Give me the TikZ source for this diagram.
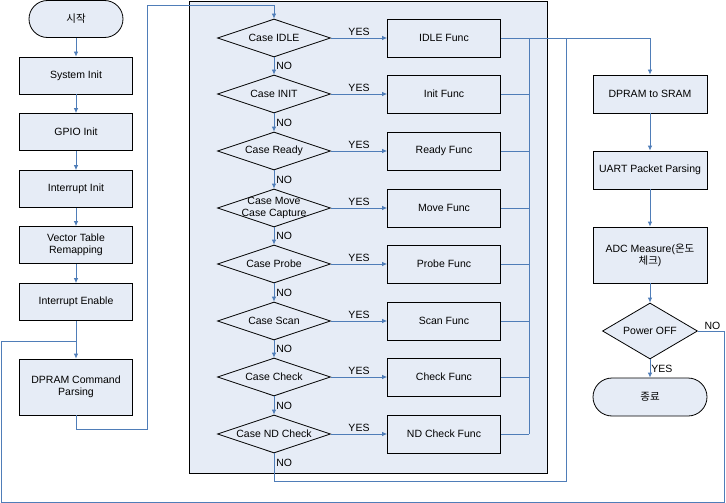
\documentclass[tikz,border=0pt]{standalone}
\usepackage{fontspec}
\setmainfont{Liberation Sans}
\newfontfamily\kofont{Noto Sans CJK KR}
\usetikzlibrary{shapes.geometric,arrows.meta}

\definecolor{flowline}{HTML}{4F7DB8}
\definecolor{boxfill}{HTML}{E6ECF6}

\begin{document}
\begin{tikzpicture}[
    x=1pt, y=-1pt,
    font=\fontsize{10.5}{12}\selectfont,
    process/.style={draw, fill=boxfill, line width=0.8pt, minimum width=113, minimum height=37, align=center, inner sep=1pt},
    terminal/.style={process, rounded corners=18.5pt},
    decision/.style={diamond, draw, fill=boxfill, line width=0.8pt, aspect=3, minimum width=113, minimum height=38, inner sep=0pt, align=center},
    flow/.style={draw=flowline, line width=0.8pt},
    arrow/.style={flow, -{Latex[length=5pt,width=4.5pt]}},
    yes/.style={above, inner sep=2pt},
    no/.style={right, inner sep=2pt}
]
\useasboundingbox (0,0) rectangle (726,503);

% case frame
\draw[fill=boxfill, line width=0.8pt] (189,1) rectangle (547,473);

% start sequence
\node[terminal, minimum width=94] (start) at (76,19) {\kofont 시작};
\node[process] (sysinit) at (76,75.5) {System Init};
\node[process] (gpioinit) at (76,132) {GPIO Init};
\node[process] (intinit) at (76,189) {Interrupt Init};
\node[process] (vectable) at (76,245) {Vector Table\\Remapping};
\node[process] (intenable) at (76,302) {Interrupt Enable};
\node[process, minimum height=56] (cmdparse) at (76,387) {DPRAM Command\\Parsing};

% cases
\node[decision] (cidle) at (274,38) {Case IDLE};
\node[decision] (cinit) at (274,94) {Case INIT};
\node[decision] (cready) at (274,151) {Case Ready};
\node[decision, inner xsep=-15pt] (cmove) at (274,208) {Case Move\\Case Capture};
\node[decision] (cprobe) at (274,264) {Case Probe};
\node[decision] (cscan) at (274,321) {Case Scan};
\node[decision] (ccheck) at (274,377) {Case Check};
\node[decision] (cndcheck) at (274,434) {Case ND Check};

% functions
\node[process, minimum height=38] (fidle) at (444,38) {IDLE Func};
\node[process, minimum height=38] (finit) at (444,94) {Init Func};
\node[process, minimum height=38] (fready) at (444,151) {Ready Func};
\node[process, minimum height=38] (fmove) at (444,208) {Move Func};
\node[process, minimum height=38] (fprobe) at (444,264) {Probe Func};
\node[process, minimum height=38] (fscan) at (444,321) {Scan Func};
\node[process, minimum height=38] (fcheck) at (444,377) {Check Func};
\node[process, minimum height=38] (fndcheck) at (444,434) {ND Check Func};

% right sequence
\node[process, minimum width=114, minimum height=38] (tosram) at (650,94) {DPRAM to SRAM};
\node[process, minimum width=114, minimum height=38] (uartparse) at (650,170) {UART Packet Parsing};
\node[process, minimum width=114, minimum height=56] (adcmeas) at (650,255) {ADC Measure({\kofont 온도}\\{\kofont 체크})};
\node[decision, minimum width=95, minimum height=56, aspect=1.7] (poweroff) at (650,331) {Power OFF};
\node[terminal, minimum width=114, minimum height=38, rounded corners=19pt] (finish) at (650,397) {\kofont 종료};

% helper points
\coordinate (busTop) at (529,38);
\coordinate (busBot) at (529,434);
\coordinate (ndTurn) at (566,481);
\coordinate (loopJoin) at (76,341);

% start sequence arrows
\draw[arrow] (start) -- (sysinit);
\draw[arrow] (sysinit) -- (gpioinit);
\draw[arrow] (gpioinit) -- (intinit);
\draw[arrow] (intinit) -- (vectable);
\draw[arrow] (vectable) -- (intenable);
\draw[arrow] (intenable) -- (cmdparse);
\draw[arrow] (cmdparse.south) |- (147,429) |- (274,5) -- (cidle.north);

% case arrows
\foreach \c/\f in {cidle/fidle, cinit/finit, cready/fready, cmove/fmove, cprobe/fprobe, cscan/fscan, ccheck/fcheck, cndcheck/fndcheck}
    \draw[arrow] (\c.east) -- node[yes] {YES} (\f.west);
\foreach \a/\b in {cidle/cinit, cinit/cready, cready/cmove, cmove/cprobe, cprobe/cscan, cscan/ccheck, ccheck/cndcheck}
    \draw[arrow] (\a.south) -- node[no] {NO} (\b.north);

% function returns
\foreach \f in {finit, fready, fmove, fprobe, fscan, fcheck, fndcheck}
    \draw[flow] (\f.east) -- (\f.east -| busTop);
\draw[flow] (busTop) -- (busBot);
\draw[arrow] (fidle.east) -| (tosram.north);
\draw[flow] (cndcheck.south) -- node[no, pos=0.35] {NO} (cndcheck.south |- ndTurn) -- (ndTurn) -- (ndTurn |- busTop);

% right sequence arrows
\draw[arrow] (tosram) -- (uartparse);
\draw[arrow] (uartparse) -- (adcmeas);
\draw[arrow] (adcmeas) -- (poweroff);
\draw[arrow] (poweroff.south) -- node[no, inner sep=1pt] {YES} (finish.north);
\draw[flow] (poweroff.east) -- node[above right, pos=0.2, inner sep=1pt] {NO} (724,331) |- (1,502) |- (loopJoin);

\end{tikzpicture}
\end{document}
